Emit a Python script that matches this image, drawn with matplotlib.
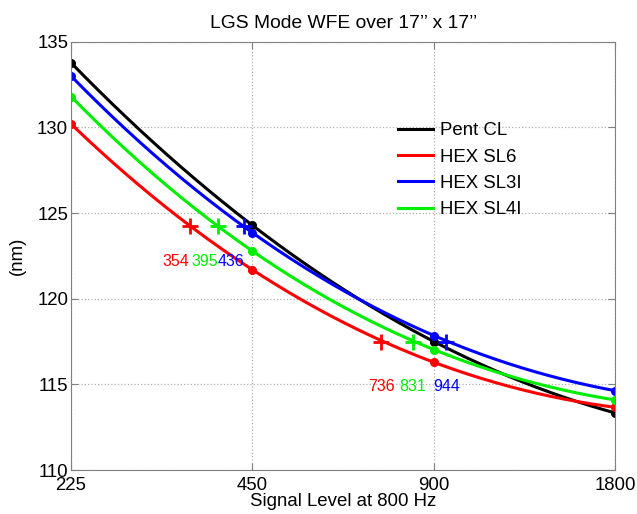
import numpy as np
import matplotlib
matplotlib.use("Agg")
import matplotlib.pyplot as plt

plt.rcParams['font.family'] = ['Liberation Sans', 'DejaVu Sans']

# signal levels (log2 axis) and WFE values
signal = [225, 450, 900, 1800]
names = ["Pent CL", "HEX SL6", "HEX SL3I", "HEX SL4I"]
colors = ["black", "red", "blue", "#00ee00"]
wfe = {
    "Pent CL": [133.77, 124.28, 117.50, 113.33],
    "HEX SL6": [130.20, 121.69, 116.29, 113.66],
    "HEX SL3I": [133.00, 123.85, 117.85, 114.63],
    "HEX SL4I": [131.80, 122.78, 117.03, 114.09],
}

# crossing points where each curve hits the two reference levels
cross_hi = 124.25
cross_lo = 117.5
cross_hi_x = {"HEX SL6": 354, "HEX SL4I": 395, "HEX SL3I": 436}
cross_lo_x = {"HEX SL6": 736, "HEX SL4I": 831, "HEX SL3I": 944}

fig = plt.figure(figsize=(6.37, 5.14), dpi=100)
ax = fig.add_axes([0.1115, 0.0855, 0.8545, 0.8334])

t_pts = np.log2(np.array(signal) / 225.0)
t_fine = np.linspace(0, 3, 200)
x_fine = 225.0 * 2 ** t_fine

for name, c in zip(names, colors):
    vals = wfe[name]
    coef = np.polyfit(t_pts, vals, 3)  # smooth curve through the 4 points
    ax.plot(x_fine, np.polyval(coef, t_fine), color=c, lw=2.2, label=name)
    ax.plot(signal, vals, 'o', color=c, ms=5.5)

for name, c in zip(names, colors):
    if name in cross_hi_x:
        ax.plot(cross_hi_x[name], cross_hi, '+', color=c, ms=11, mew=2)
        ax.plot(cross_lo_x[name], cross_lo, '+', color=c, ms=11, mew=2)

for name, c in zip(names, colors):
    if name in cross_hi_x:
        ax.text(cross_hi_x[name], 122.2, str(cross_hi_x[name]), color=c,
                fontsize=11.5, ha='right', va='center')
        ax.text(cross_lo_x[name], 114.9, str(cross_lo_x[name]), color=c,
                fontsize=11.5, ha='center', va='center')

ax.set_xscale('log', base=2)
ax.set_xlim(225, 1800)
ax.set_ylim(110, 135)
ax.set_xticks(signal)
ax.set_xticklabels([str(s) for s in signal])
ax.minorticks_off()
ax.set_yticks([110, 115, 120, 125, 130, 135])
ax.grid(True, linestyle=':', color='#b0b0b0', lw=0.9)
ax.tick_params(direction='in', top=True, right=True, labelsize=13.4,
               color='#808080', length=5)
ax.tick_params(axis='x', pad=5)
ax.tick_params(axis='y', pad=2)
for sp in ax.spines.values():
    sp.set_color('#808080')

ax.set_title("LGS Mode WFE over 17\u2019\u2019 x 17\u2019\u2019", fontsize=13.9, pad=10)
ax.set_xlabel("Signal Level at 800 Hz", fontsize=13.4, labelpad=-1)
ax.set_ylabel("(nm)", fontsize=13.4, labelpad=8)

ax.legend(loc='upper left', bbox_to_anchor=(0.601, 0.812), frameon=False,
          fontsize=13.4, handlelength=1.88, handletextpad=0.38,
          labelspacing=0.5, borderpad=0, borderaxespad=0)

fig.savefig("out.png", dpi=100)
